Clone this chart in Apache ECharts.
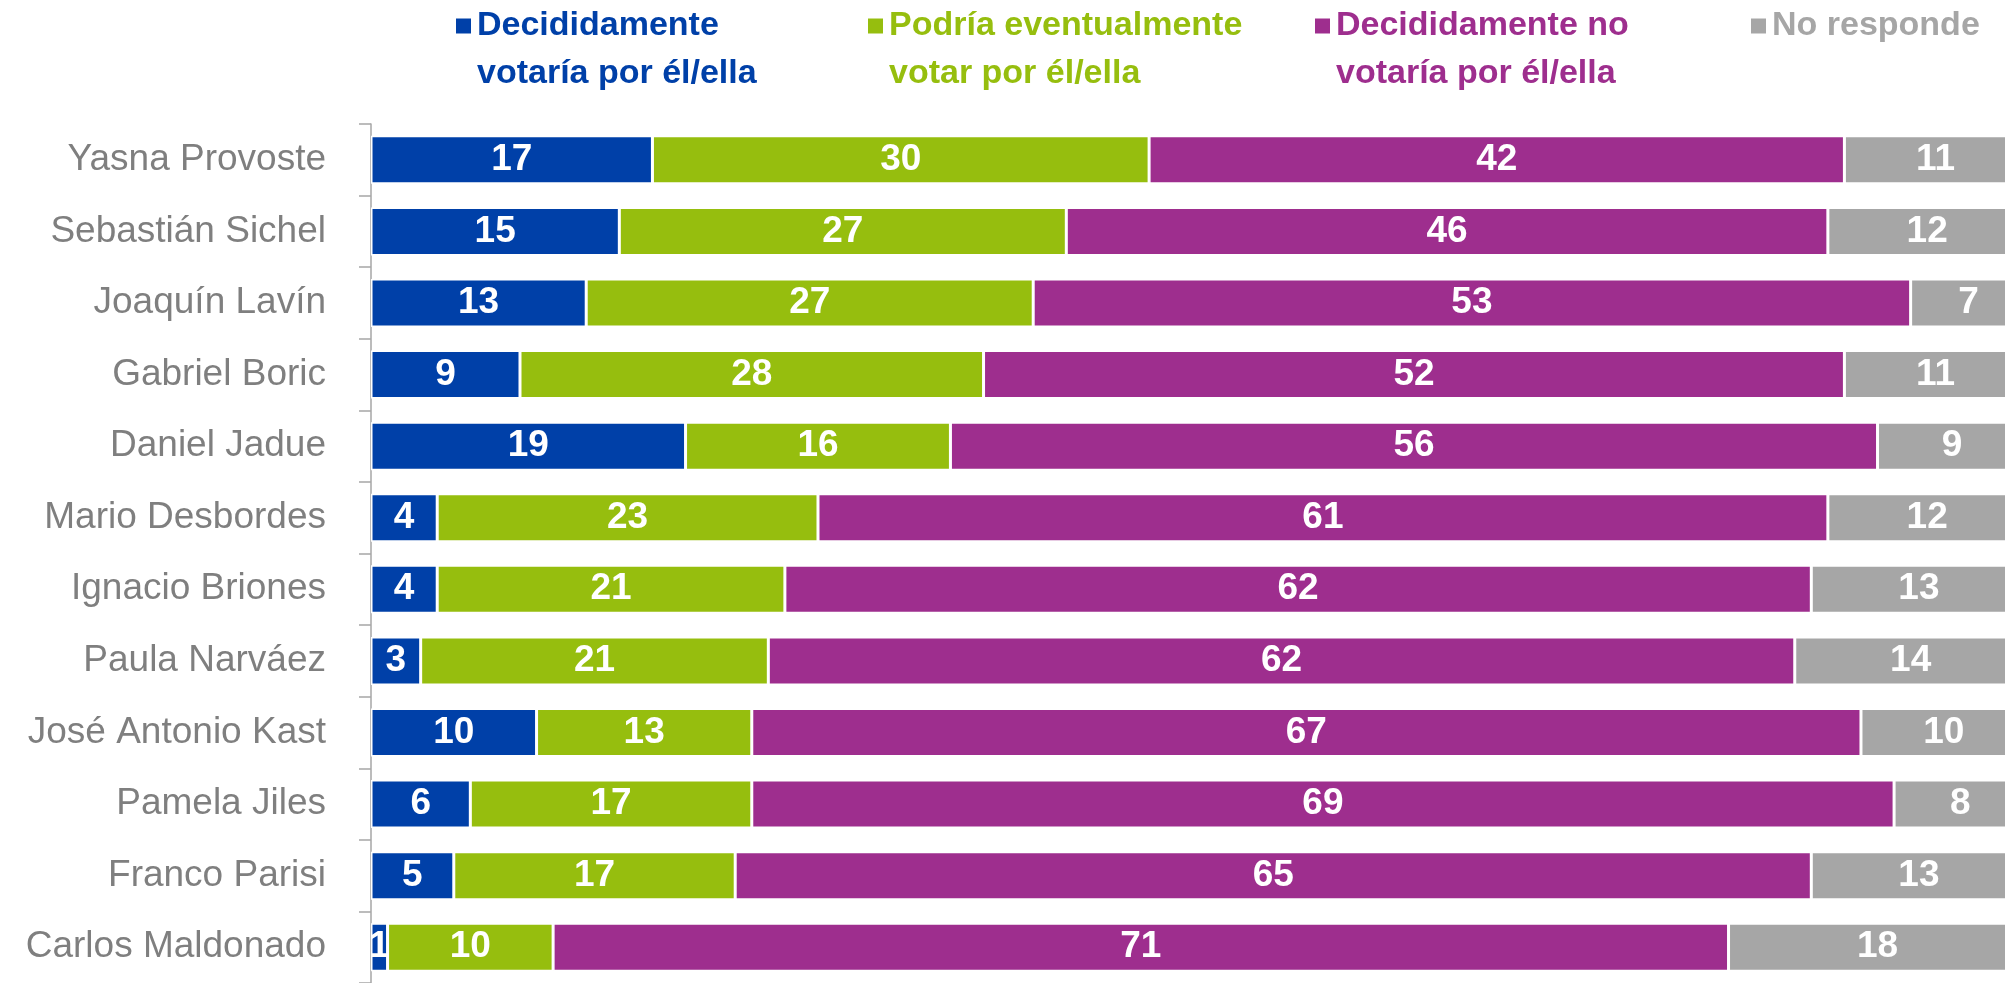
<!DOCTYPE html>
<html>
<head>
<meta charset="utf-8">
<script src="https://cdn.jsdelivr.net/npm/echarts@6/dist/echarts.min.js"></script>
<style>
  html, body { margin: 0; padding: 0; background: #fff; }
  #main { width: 2005px; height: 983px; }
</style>
</head>
<body>
<div id="main"></div>
<script>
// candidatos y porcentajes
var candidatos = ["Yasna Provoste", "Sebastián Sichel", "Joaquín Lavín", "Gabriel Boric", "Daniel Jadue",
  "Mario Desbordes", "Ignacio Briones", "Paula Narváez", "José Antonio Kast", "Pamela Jiles",
  "Franco Parisi", "Carlos Maldonado"];
var decididamenteSi = [17, 15, 13, 9, 19, 4, 4, 3, 10, 6, 5, 1];
var podriaVotar = [30, 27, 27, 28, 16, 23, 21, 21, 13, 17, 17, 10];
var decididamenteNo = [42, 46, 53, 52, 56, 61, 62, 62, 67, 69, 65, 71];
var noResponde = [11, 12, 7, 11, 9, 12, 13, 14, 10, 8, 13, 18];

var nombres = ["Decididamente\nvotaría por él/ella", "Podría eventualmente\nvotar por él/ella",
  "Decididamente no\nvotaría por él/ella", "No responde"];
var colores = ["#0040A8", "#96BE0E", "#9E2E8E", "#A6A6A6"];
var valores = [decididamenteSi, podriaVotar, decididamenteNo, noResponde];

var fuente = "'Liberation Sans', Arial, sans-serif";
var legendLeft = [454, 866, 1313, 1749];

var myChart = echarts.init(document.getElementById("main"));

// una leyenda por serie, para ubicarlas como en el original
// (una linea vacia arriba deja el icono junto a la primera linea de texto)
var legends = nombres.map(function (n, i) {
  var dosLineas = n.indexOf("\n") > -1;
  return {
    data: [n],
    left: legendLeft[i],
    top: dosLineas ? -46 : 2,
    padding: 0,
    icon: "rect",
    itemWidth: 17,
    itemHeight: 17,
    selectedMode: false,
    formatter: function (name) {
      return dosLineas ? " \n" + name : name;
    },
    textStyle: {
      color: colores[i],
      fontFamily: fuente,
      fontWeight: "bold",
      fontSize: 34,
      lineHeight: 48
    }
  };
});

var series = nombres.map(function (n, i) {
  return {
    name: n,
    type: "bar",
    stack: "total",
    barWidth: 48,
    clip: false,
    data: valores[i],
    itemStyle: { color: colores[i], borderColor: "#fff", borderWidth: 1.5 },
    label: {
      show: true,
      position: "inside",
      color: "#fff",
      fontFamily: fuente,
      fontWeight: "bold",
      fontSize: 37
    }
  };
});

var option = {
  animation: false,
  legend: legends,
  grid: { left: 371, top: 124, right: 0, height: 865 },
  // el original esta recortado a la derecha: la escala llega a 100 fuera del lienzo
  xAxis: { type: "value", min: 0, max: 98.7, show: false },
  yAxis: {
    type: "category",
    inverse: true,
    data: candidatos,
    axisLine: { show: true, lineStyle: { color: "#A6A6A6", width: 1.5 } },
    axisTick: { show: true, length: 12, lineStyle: { color: "#A6A6A6", width: 1.5 } },
    axisLabel: { color: "#7F7F7F", fontFamily: fuente, fontSize: 37, margin: 45 }
  },
  series: series
};

myChart.setOption(option);
</script>
</body>
</html>
